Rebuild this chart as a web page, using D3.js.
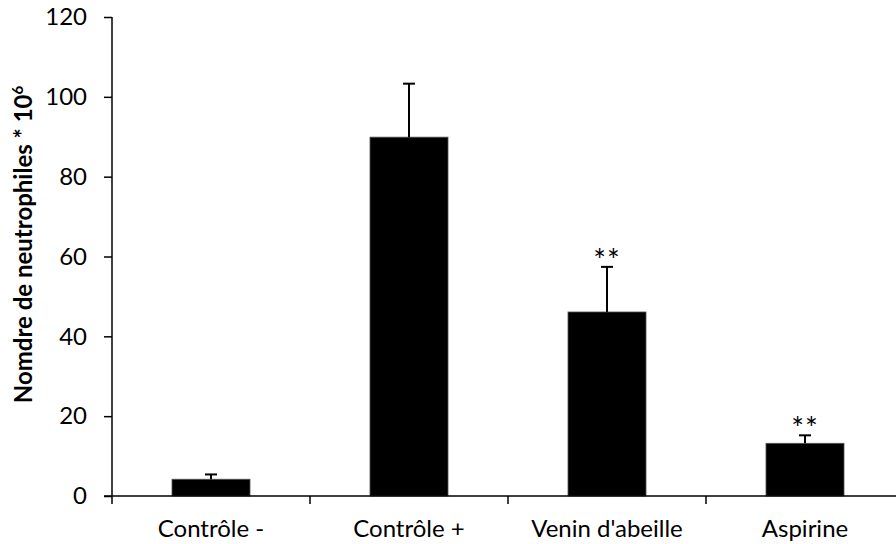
<!DOCTYPE html>
<html>
<head>
<meta charset="utf-8">
<script src="https://cdn.jsdelivr.net/npm/d3@7"></script>
<style>
  body { margin: 0; background: #fff; }
  svg text { font-family: Lato, "Open Sans", sans-serif; fill: #000; }
</style>
</head>
<body>
<svg id="chart" width="896" height="544"></svg>
<script>
// Neutrophil counts (× 10^6) per treatment group
const categories = ["Contrôle -", "Contrôle +", "Venin d'abeille", "Aspirine"];
const means = [4.2, 89.9, 46.1, 13.2];
const errors = [1.2, 13.4, 11.3, 2.0];
const significance = ["", "", "**", "**"];
const yTicks = [0, 20, 40, 60, 80, 100, 120];

const svg = d3.select("#chart");
const margin = { left: 112, right: -8, top: 17, bottom: 48 };
const W = 896, H = 544;
const FONT = 24;

const x = d3.scaleBand()
  .domain(categories)
  .range([margin.left, W - margin.right])
  .paddingInner(0.606)
  .paddingOuter(0.303);

const y = d3.scaleLinear()
  .domain([0, 120])
  .range([H - margin.bottom, margin.top]);

// Bars
svg.append("g").selectAll("rect")
  .data(categories)
  .join("rect")
  .attr("x", d => x(d))
  .attr("width", x.bandwidth())
  .attr("y", (d, i) => y(means[i]))
  .attr("height", (d, i) => y(0) - y(means[i]))
  .attr("fill", "#000")
  .attr("stroke", "#555")
  .attr("stroke-width", 0.8);

// Upper error bars
const err = svg.append("g").attr("stroke", "#000").attr("stroke-width", 2);
categories.forEach((c, i) => {
  const cx = x(c) + x.bandwidth() / 2;
  err.append("line")
    .attr("x1", cx).attr("x2", cx)
    .attr("y1", y(means[i])).attr("y2", y(means[i] + errors[i]));
  err.append("line")
    .attr("x1", cx - 6).attr("x2", cx + 6)
    .attr("y1", y(means[i] + errors[i])).attr("y2", y(means[i] + errors[i]));
});

// Significance markers
svg.append("g").selectAll("text")
  .data(categories)
  .join("text")
  .attr("x", d => x(d) + x.bandwidth() / 2)
  .attr("y", (d, i) => y(means[i] + errors[i]) + 4)
  .attr("text-anchor", "middle")
  .attr("font-size", 30)
  .attr("letter-spacing", 1)
  .text((d, i) => significance[i]);

// Y axis
const yAxis = svg.append("g")
  .attr("transform", `translate(${margin.left},0)`)
  .call(d3.axisLeft(y).tickValues(yTicks).tickSize(8).tickPadding(17));
yAxis.select(".domain").attr("stroke-width", 1.5).attr("d", `M-0,${y(120)}V${y(0)}`);
yAxis.selectAll(".tick line").attr("stroke-width", 1.5);
yAxis.selectAll(".tick text")
  .attr("x", -25)
  .attr("font-size", FONT)
  .attr("font-family", "Lato, sans-serif");

// X axis with separators between groups
const xAxisY = y(0);
const xg = svg.append("g");
xg.append("line")
  .attr("x1", margin.left - 8).attr("x2", W - margin.right)
  .attr("y1", xAxisY).attr("y2", xAxisY)
  .attr("stroke", "#000").attr("stroke-width", 1.5);
const step = x.step();
xg.selectAll("line.sep")
  .data(d3.range(categories.length + 1))
  .join("line")
  .attr("class", "sep")
  .attr("x1", i => margin.left + i * step)
  .attr("x2", i => margin.left + i * step)
  .attr("y1", xAxisY).attr("y2", xAxisY + 8)
  .attr("stroke", "#000").attr("stroke-width", 1.5);
xg.selectAll("text")
  .data(categories)
  .join("text")
  .attr("x", d => x(d) + x.bandwidth() / 2)
  .attr("y", 537)
  .attr("text-anchor", "middle")
  .attr("font-size", FONT)
  .text(d => d);

// Y axis title
const title = svg.append("text")
  .attr("transform", `translate(32,${(y(0) + y(120)) / 2 - 12}) rotate(-90)`)
  .attr("text-anchor", "middle")
  .attr("font-size", FONT)
  .attr("font-weight", "bold");
title.append("tspan").text("Nomdre de neutrophiles * 10");
title.append("tspan").attr("font-size", 15).attr("dy", -9).text("6");
</script>
</body>
</html>
